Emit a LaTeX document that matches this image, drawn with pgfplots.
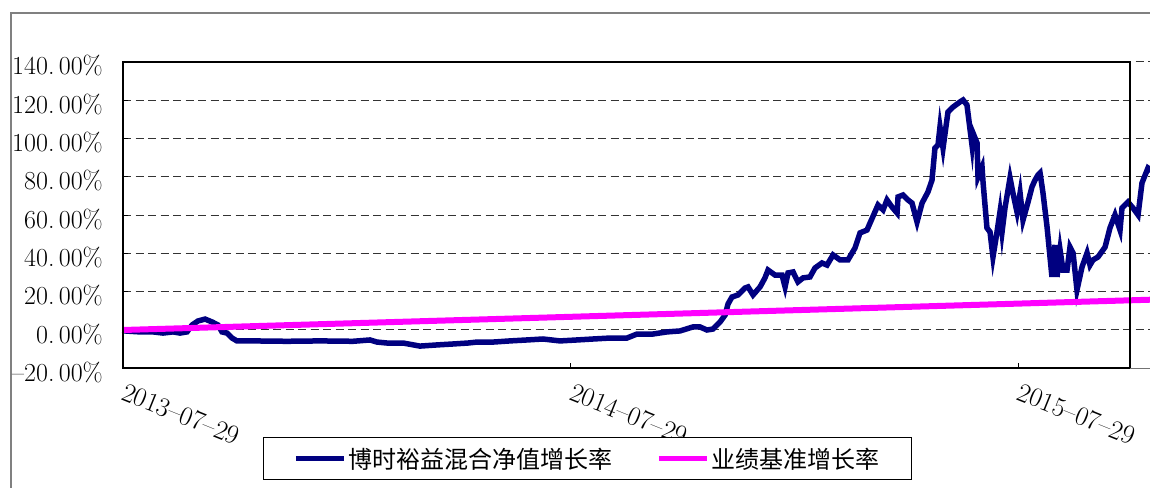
\documentclass[border=0pt]{standalone}
\usepackage{fontspec}
\usepackage{pgfplots}
\pgfplotsset{compat=1.18}
\newfontfamily\cjk{Noto Sans CJK SC}
\definecolor{navyline}{RGB}{0,0,128}
\definecolor{magline}{RGB}{255,0,255}

\begin{document}
\begin{tikzpicture}
\useasboundingbox (0pt,0pt) rectangle (1150pt,487pt);
\clip (0pt,0pt) rectangle (1150pt,487pt);
\fill[white] (0pt,0pt) rectangle (1150pt,487pt);
\draw[black!50, line width=1.3pt] (11pt,-5pt) -- (11pt,474pt) -- (1160pt,474pt);
\begin{axis}[
  at={(123pt,118.7pt)}, anchor=south west,
  x=1.2265pt, y=1.915pt,
  xmin=0, xmax=900, ymin=-20, ymax=140,
  clip=false,
  axis line style={draw=none},
  tick pos=left,
  tick align=inside,
  ytick={-20,0,20,40,60,80,100,120,140},
  yticklabels={--20.\,00\%,0.\,00\%,20.\,00\%,40.\,00\%,60.\,00\%,80.\,00\%,100.\,00\%,120.\,00\%,140.\,00\%},
  xtick={0,365,730},
  xticklabels={2013--07--29,2014--07--29,2015--07--29},
  ymajorgrids,
  grid style={black!80, line width=1pt, dash pattern=on 8pt off 4.5pt},
  tick style={black, line width=1pt},
  major tick length=5pt,
  yticklabel style={font=\fontsize{26}{30}\selectfont, anchor=east, inner sep=0pt, xshift=-20pt, yshift=-4pt},
  xticklabel style={font=\fontsize{27}{30}\selectfont, rotate=-22, anchor=north west, inner sep=0pt, xshift=9pt, yshift=-11pt},
  legend columns=2,
  legend style={draw=black, line width=0.8pt, fill=white,
    at={(0.1268,-0.3646)}, anchor=south west,
    inner xsep=30pt, inner ysep=8pt,
    font=\cjk\fontsize{24}{28}\selectfont,
    /tikz/every even column/.append style={column sep=42pt}},
  legend image code/.code={\draw[#1, line width=5pt] (0pt,0pt) -- (48pt,0pt);},
]
\addplot[navyline, line width=5.5pt] coordinates {
(0,0) (1.6,-0.5) (13.9,-1.0) (24.5,-1.0) (32.6,-1.6) (40.8,-1.0) (46.5,-1.6)
(52.2,-1.0) (56.3,2.6) (61.1,4.7) (66.9,5.7) (72.6,4.2) (77.5,2.6) (80.7,-1.0)
(84.8,-1.6) (88.9,-4.2) (92.9,-5.7) (106.0,-5.7) (133.7,-5.9) (160.6,-5.7)
(187.5,-5.9) (201.4,-5.2) (207.1,-6.3) (215.2,-6.8) (228.3,-6.8) (242.1,-8.4)
(256.0,-7.8) (269.1,-7.3) (281.3,-6.8) (288.6,-6.3) (301.7,-6.3) (315.5,-5.7)
(329.4,-5.2) (342.4,-4.7) (356.3,-5.7) (370.2,-5.2) (383.2,-4.7) (397.1,-4.2)
(410.9,-4.2) (419.1,-2.1) (432.1,-2.1) (443.5,-1.0) (454.1,-0.5) (464.7,1.6)
(470.4,1.6) (476.1,0.0) (481.0,0.5) (486.8,4.2) (490.9,7.8) (493.3,13.6)
(496.5,17.2) (501.4,18.3) (507.1,21.9) (509.6,22.5) (513.7,18.3) (519.4,22.5)
(523.4,27.2) (525.9,31.3) (531.6,28.7) (537.3,28.7) (539.8,22.5) (542.2,29.8)
(546.3,30.3) (550.3,25.1) (554.4,27.2) (560.1,27.7) (564.2,32.4) (569.9,35.0)
(574.0,33.9) (578.9,39.2) (584.6,36.6) (591.1,36.6) (596.8,42.8) (600.9,50.7)
(606.6,52.2) (609.1,55.9) (615.6,65.3) (619.7,62.7) (622.9,67.9) (627.0,64.2)
(631.1,61.1) (631.9,69.5) (636.0,70.5) (640.0,67.9) (643.3,66.3) (647.4,56.4)
(651.5,66.3) (656.3,72.1) (659.6,78.3) (662.0,95.0) (664.5,96.6) (666.1,106.0)
(668.6,95.0) (672.6,113.8) (676.7,116.4) (682.4,119.1) (684.9,120.1) (688.1,117.5)
(692.2,96.6) (693.0,102.9) (696.3,97.7) (697.1,79.9) (700.4,85.1) (701.2,77.3)
(704.4,53.3) (706.9,51.2) (709.3,38.1) (712.6,51.2) (715.0,61.6) (716.7,51.2)
(719.1,63.7) (723.2,79.4) (725.6,71.5) (728.9,61.6) (731.4,71.5) (733.8,57.4)
(737.9,66.8) (741.1,74.7) (743.6,78.3) (746.0,80.9) (747.7,82.0) (750.1,71.5)
(753.4,53.8) (757.4,27.7) (759.9,44.4) (761.5,27.7) (764.0,41.8) (766.4,31.3)
(769.7,31.3) (772.1,43.3) (774.6,40.2) (777.8,20.9) (781.9,32.9) (786.0,40.2)
(788.4,33.9) (790.9,36.6) (794.9,38.1) (800.7,43.3) (804.7,53.3) (808.8,60.1)
(812.9,52.2) (814.5,63.7) (819.4,66.8) (823.5,63.7) (827.6,60.1) (830.8,76.8)
(835.7,84.6) (841.4,82.0)
};
\addlegendentry{博时裕益混合净值增长率}
\addplot[magline, line width=6pt] coordinates {
(0,0) (365,6.89) (730,13.78) (850,16.05)
};
\addlegendentry{业绩基准增长率}
\draw[black, line width=2pt] (axis cs:0,-20) rectangle (axis cs:821,140);
\draw[black!55, line width=1.2pt] (axis cs:821,-20) -- (axis cs:900,-20);
\end{axis}
\end{tikzpicture}
\end{document}
